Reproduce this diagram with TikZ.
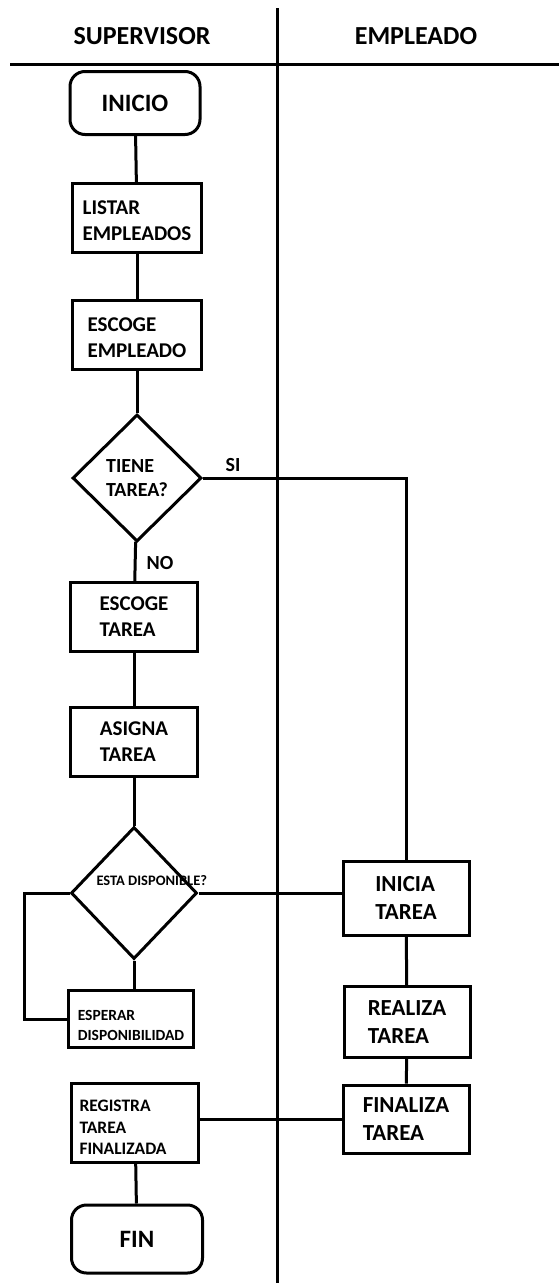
\documentclass[tikz,border=0pt]{standalone}
\usepackage{fontspec}
\setmainfont{Carlito}
\usetikzlibrary{shapes.geometric}
\usetikzlibrary{positioning}
\newcommand\fhead{\bfseries\fontsize{26}{30}\selectfont}
\newcommand\fmid{\bfseries\fontsize{21}{26}\selectfont}
\newcommand\fbig{\bfseries\fontsize{23}{28}\selectfont}
\newcommand\fsmall{\bfseries\fontsize{15.5}{20}\selectfont}

\begin{document}
\begin{tikzpicture}[x=1pt,y=-1pt,line width=3pt]%
        \useasboundingbox (0,0) rectangle (559,1283); %%
        % carriles
        \coordinate (h0) at (10,64); %%
        \coordinate (h1) at (559,64); %%
        \coordinate (v0) at (277,8); %%
        \coordinate (v1) at (277,1283); %%
        \coordinate (loopx) at (24,0); %%
        \draw (h0)--(h1); %%
        \draw (v0)--(v1); %%
        \node[font=\fhead] (sup) at (142,36) {SUPERVISOR}; %%
        \node[font=\fhead] (emp) at (416,36) {EMPLEADO}; %%
        \begin{scope}[shape=rectangle,rounded corners=15pt]
        \tikzstyle{every node}=[draw,font=\fhead\fontsize{25}{30}\selectfont] %%
        \node[minimum width=130pt,minimum height=63pt] (inicio) at (135,103) {INICIO}; %%
        \node[minimum width=131pt,minimum height=68pt] (fin) at (137,1239) {FIN}; %%
        \end{scope}
        \begin{scope}[shape=rectangle,inner sep=0pt,align=left]
        \tikzstyle{every node}=[draw,fill=white,font=\fmid] %%
        \node[minimum width=129pt,minimum height=69pt] (listar) at (137,218) {\rule{0pt}{19pt}LISTAR\\EMPLEADOS}; %%
        \node[minimum width=129pt,minimum height=69pt] (escemp) at (137,335) {\rule{0pt}{19pt}ESCOGE\\EMPLEADO}; %%
        \node[minimum width=127pt,minimum height=69pt] (esctarea) at (134,617) {ESCOGE\\TAREA}; %%
        \node[minimum width=127pt,minimum height=69pt] (asigna) at (134,742) {ASIGNA\\TAREA}; %%
        \node[minimum width=125pt,minimum height=57pt,font=\fsmall] (esperar) at (131,1019) {\rule{0pt}{24pt}ESPERAR\\DISPONIBILIDAD}; %%
        \node[minimum width=127pt,minimum height=68pt,text width=111pt,inner sep=8pt,
              font=\bfseries\fontsize{17.5}{21.5}\selectfont] (registra) at (135,1123) {\rule{0pt}{20pt}REGISTRA\\TAREA\\FINALIZADA}; %%
        \end{scope}
        \begin{scope}[shape=rectangle,inner sep=0pt,align=left]
        \tikzstyle{every node}=[draw,fill=white,font=\fbig,minimum width=126pt] %%
        \node[minimum height=74pt] (inicia) at (406,898) {INICIA\\TAREA}; %%
        \node[minimum height=71pt] (realiza) at (407,1022) {REALIZA\\TAREA}; %%
        \node[minimum height=68pt] (finaliza) at (406,1119) {FINALIZA\\TAREA}; %%
        \end{scope}
        \node[anchor=base west,inner sep=0pt,font=\bfseries\fontsize{14.5}{17}\selectfont] (disptxt) at (95,885) {ESTA DISPONIBLE?}; %%
        \begin{scope}[shape=diamond,inner sep=0pt,align=left]
        \tikzstyle{every node}=[draw,font=\bfseries\fontsize{20}{24}\selectfont] %%
        \node[minimum width=129pt,minimum height=127pt] (tiene) at (137,478) {TIENE\\TAREA?}; %%
        \node[minimum width=126pt,minimum height=132pt] (disp) at (134,893) {}; %%
        \end{scope}
        \node[font=\bfseries\fontsize{20}{24}\selectfont] (si) at (233,465) {SI}; %%
        \node[font=\bfseries\fontsize{20}{24}\selectfont] (no) at (160,563) {NO}; %%
        \draw (inicio)--(listar); %%
        \draw (listar)--(escemp); %%
        \draw (escemp)--(tiene); %%
        \draw (tiene)--(esctarea); %%
        \draw (esctarea)--(asigna); %%
        \draw (asigna)--(disp); %%
        \draw (disp.south)--(disp.south |- esperar.north); %%
        \draw (disp.west)--(disp.west -| loopx) |- (esperar.west); %%
        \draw (tiene.east) -| (inicia.north); %%
        \draw (disp.east)--(disp.east -| inicia.west); %%
        \draw (inicia)--(realiza); %%
        \draw (realiza)--(finaliza); %%
        \draw (finaliza.west)--(finaliza.west -| registra.east); %%
        \draw (registra)--(fin); %%
\end{tikzpicture}
\end{document}
